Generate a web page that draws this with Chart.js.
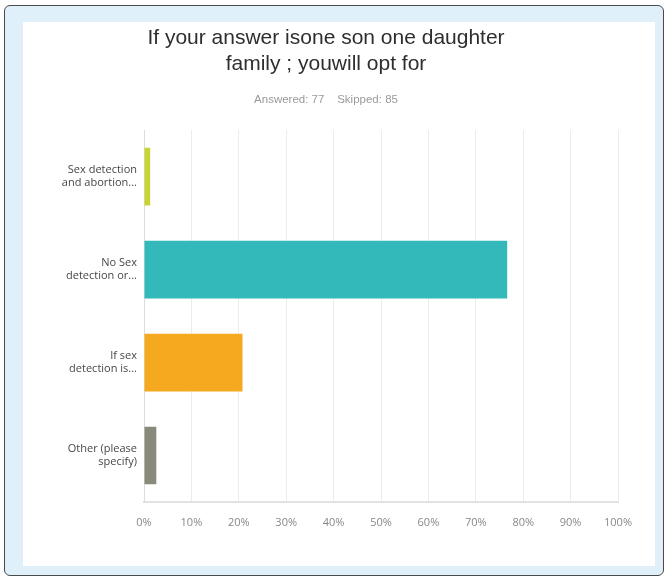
<!DOCTYPE html>
<html lang="en">

<head>
    <meta charset="UTF-8">
    <title>If your answer isone son one daughter family</title>
    <script src="https://cdn.jsdelivr.net/npm/chart.js"></script>
    <style>
        body {
            margin: 0;
            background: #ffffff;
        }

        .frame {
            position: absolute;
            left: 4px;
            top: 5px;
            width: 658px;
            height: 569px;
            border: 1.5px solid #4a4a4a;
            border-radius: 6px;
            background: #e0f0fb;
        }

        .panel {
            position: absolute;
            left: 23px;
            top: 22px;
            width: 632px;
            height: 544px;
            background: #ffffff;
        }

        #barChart {
            position: absolute;
            left: 6px;
            top: 22px;
        }
    </style>
</head>

<body>
    <div class="frame"></div>
    <div class="panel"></div>
    <canvas id="barChart" width="640" height="544"></canvas>

    <script>
        // chart data
        const categories = [
            ['Sex detection', 'and abortion...'],
            ['No Sex', 'detection or...'],
            ['If sex', 'detection is...'],
            ['Other (please', 'specify)']
        ];
        const percentages = [1.30, 76.62, 20.78, 2.60];
        const barColors = ['#c8d436', '#33b9b9', '#f5a91e', '#898a7c'];
        const xTicks = [0, 10, 20, 30, 40, 50, 60, 70, 80, 90, 100];

        const ctx = document.getElementById('barChart').getContext('2d');
        new Chart(ctx, {
            type: 'bar',
            data: {
                labels: categories,
                datasets: [{
                    data: percentages,
                    backgroundColor: barColors,
                    borderWidth: 0,
                    categoryPercentage: 1,
                    barPercentage: 0.62
                }]
            },
            options: {
                indexAxis: 'y',
                responsive: false,
                animation: false,
                plugins: {
                    legend: { display: false },
                    tooltip: { enabled: false },
                    title: {
                        display: true,
                        text: ['If your answer isone son one daughter', 'family ; youwill opt for'],
                        color: '#2e2e2e',
                        font: { family: "'Liberation Sans', Arial, sans-serif", size: 21, weight: 'normal', lineHeight: 1.2 },
                        padding: { top: 4, bottom: 17 }
                    },
                    subtitle: {
                        display: true,
                        text: 'Answered: 77    Skipped: 85',
                        color: '#9a9a9a',
                        font: { family: "'Liberation Sans', Arial, sans-serif", size: 11.5 },
                        padding: { top: 0, bottom: 23 }
                    }
                },
                scales: {
                    x: {
                        min: 0,
                        max: 100,
                        afterBuildTicks: (scale) => {
                            scale.ticks = xTicks.map(v => ({ value: v }));
                        },
                        afterFit: (scale) => {
                            scale.height = 64;
                        },
                        ticks: {
                            callback: (v) => v + '%',
                            color: '#888888',
                            font: { family: "'Open Sans', Arial, sans-serif", size: 11 },
                            padding: 14,
                            maxRotation: 0
                        },
                        grid: {
                            color: '#ececec',
                            drawTicks: false
                        },
                        border: { color: '#e2e2e2', width: 2 }
                    },
                    y: {
                        afterFit: (scale) => {
                            scale.width = 138;
                        },
                        ticks: {
                            color: '#474747',
                            font: { family: "'Open Sans', Arial, sans-serif", size: 11 },
                            padding: 7
                        },
                        grid: { display: false, drawTicks: false },
                        border: { color: '#dddddd', width: 1 }
                    }
                }
            }
        });
    </script>
</body>

</html>
